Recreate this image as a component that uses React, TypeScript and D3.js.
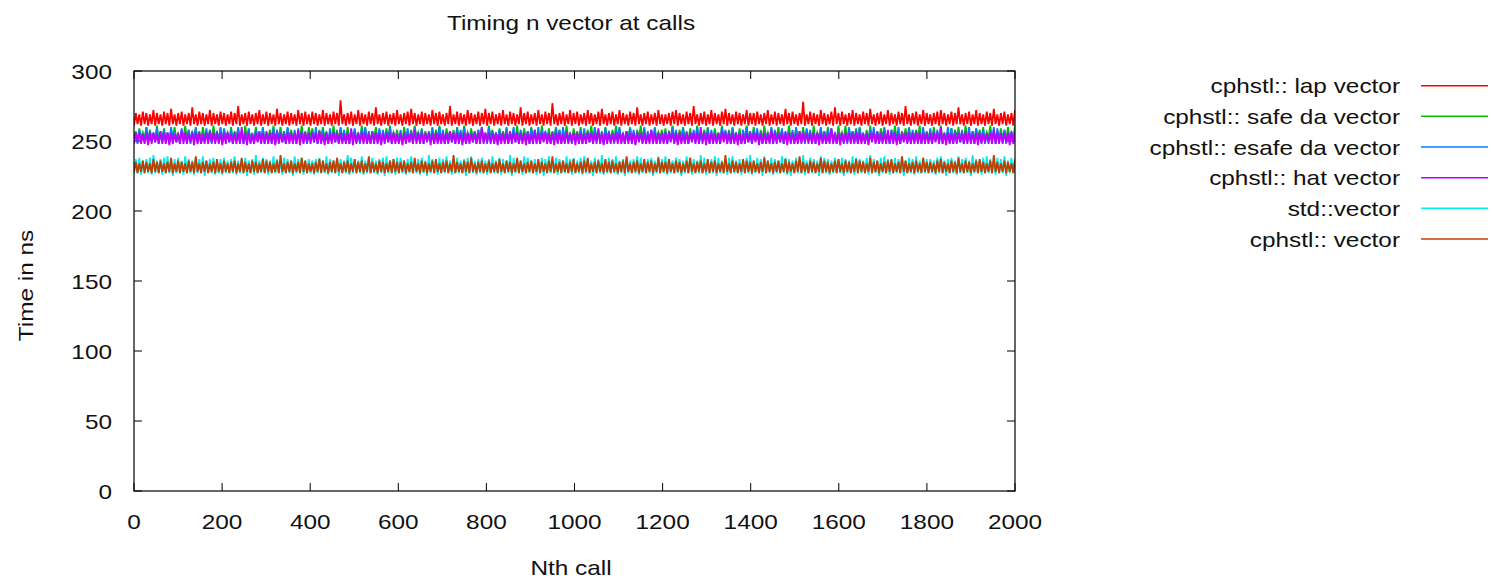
import React from "react";
import * as d3 from "d3";

const chartTitle = "Timing n vector at calls";
const xAxisTitle = "Nth call";
const yAxisTitle = "Time in ns";
const xTickValues = [0, 200, 400, 600, 800, 1000, 1200, 1400, 1600, 1800, 2000];
const yTickValues = [0, 50, 100, 150, 200, 250, 300];

const seriesNames = [
  "cphstl:: lap vector",
  "cphstl:: safe da vector",
  "cphstl:: esafe da vector",
  "cphstl:: hat vector",
  "std::vector",
  "cphstl:: vector",
];

// each character is an offset (base-36 digit) in ns above the series base value
const seriesBase = [258, 244, 244, 244, 224, 224];

const lapVector = [
  "3c4b3d4c3b4e3c4b3d4c3f4b3c4d3b4c3g4b3d4c3b4e3c4b3d",
  "4c3b4d3c4h3b4c3d4b3c4e3b4d3c4b3f4c3b4d3c4b3e4c3d4b",
  "3d4c3b4e3c4b3d4c3l4b3c4d3b4e3c4b3d4c3g4b3c4d3b4c3e",
  "4b3c4d3f4c3b4d3c4b3e4c3d4b3c4h3b4d3c4b3e4c3b4d3c4f",
  "3c4d3b4c3e4b3d4c3b4g3c4d3b4c3e4b3d4c3j4b3c4d3b4e3c",
  "4d3b4c3e4c3b4d3f4b3c4d3b4e3c4b3d4c3g4b3c4d3b4c3e4b",
  "3b4c3d4e3c4b3d4c3h4b3c4d3b4e3c4b3d4f3c4b3d4c3b4e3c",
  "4c3d4b3c4e3b4d3c4b3f4c3d4b3c4k3b4d3c4b3e4c3b4d3g4c",
  "3d4b3c4e3c4b3d4c3f4b3c4d3b4e3c4b3d4c3h4b3c4d3b4e3c",
  "4b3c4d3e4c3b4d3c4g4b3c4d3b4e3c4b3d4c3f4b3c4d3b4c3e",
].join("");

const safeDaVector = [
  "7d6f8c7g6e8b7h6d8f7c6e8g7b6d8h7e6c8f7d6g8b7e6h8c7f",
  "6e8c7g6d8f7b6h8e7c6g8d7f6b8e7h6c8g7d6f8e7b6c8h7d6g",
  "8f7c6e8g7d6b8h7e6f8c7g6d8e7b6h8f7c6d8g7e6b8f7h6c8e",
  "7b6g8d7e6h8c7f6d8b7g6e8h7c6f8d7e6g8b7h6c8f7d6e8g7c",
  "6h8e7c6f8d7g6b8e7h6c8f7d6g8e7b6h8c7f6d8g7e6c8h7b6f",
  "8d7g6c8e7h6f8b7d6g8c7e6h8f7b6d8g7c6e8h7f6b8d7g6c8e",
  "7f6c8h7d6e8g7b6f8c7h6d8e7g6b8f7c6h8d7e6g8b7f6c8h7d",
  "6g8b7e6h8c7f6d8g7e6b8h7c6f8d7g6e8b7h6c8f7d6g8e7b6h",
  "8c7h6e8d7f6g8b7e6h8c7d6f8g7b6e8h7c6d8f7g6b8e7h6c8d",
  "7e6g8c7h6b8d7f6e8g7c6h8b7d6f8e7g6c8h7b6d8f7e6g8c7h",
].join("");

const esafeDaVector = [
  "5c4e6b5g4d6c5f4b6e5c4g6d5b4f6c5e4d6g5b4c6f5e4b6d5g",
  "4f6c5e4b6g5d4c6f5b4e6d5g4c6b5f4e6c5d4g6b5e4f6d5c4b",
  "6d5g4c6e5b4f6d5c4g6e5b4d6f5c4e6g5d4b6c5f4e6d5g4c6b",
  "5e4b6f5d4g6c5e4b6d5f4c6g5e4b6d5c4f6e5g4b6c5d4e6f5b",
  "4g6d5c4e6b5f4d6g5c4e6b5d4f6c5g4e6d5b4c6f5e4g6d5c4b",
  "6b5e4f6c5d4g6e5b4f6d5c4e6g5b4d6f5e4c6b5g4d6e5f4c6b",
  "5d4c6g5e4b6f5d4c6e5g4b6d5f4e6c5b4g6e5d4f6c5b4e6g5d",
  "4e6f5b4d6c5g4e6b5f4d6c5e4g6b5d4f6e5c4b6g5d4e6f5c4b",
  "6c5b4g6d5e4f6c5b4e6g5d4c6f5b4e6d5g4c6b5f4e6d5c4g6b",
  "5f4d6e5c4b6g5f4d6c5e4b6g5d4f6c5e4b6d5g4f6c5e4b6d5c",
].join("");

const hatVector = [
  "4c5c4b4c3c4c5b4d4c4c3c4b5c4e4c4c5c3c4c4b4c4d5c4c4c",
  "3c4c5b4c4c4g4c3c4b4c5c4c4d4c4c3c4c5b4c4c4c4e3c4c5c",
  "4c5c4d4b3c4c4c5c4c4b4c4f3c4c5c4c4b4d4c4c3c4c5c4c4b",
  "4c3c4b5c4e4c4c4c5c3c4c4b4c4c4d5c4c4c3c4c4b5c4c4g4c",
  "5c4c4c3b4c4c4d4c5c4c4c3c4b4e4c4c5c4c4c3c4c4b4d4c5c",
  "3c4c4b4c5c4c4f4c3c4c4b5c4c4c4d4c4c3c5c4c4b4e4c4c4c",
  "4c4d5c4c3c4b4c4c5c4c4g4c3c4c4b4c4d5c4c4c4c3c4b4c5c",
  "4c5c3c4c4b4e4c4c5c4c3c4c4b4d4c5c4c4c4c3c4c4b4f4c4c",
  "3c4c5c4c4d4c4b4c3c5c4c4c4c4e4c4c3b4c5c4c4c4d4c4c4c",
  "4c4c5c4g4c3c4b4c4c5c4d4c4c4c3c4b5c4c4e4c4c4c5c3c4c",
].join("");

const stdVector = [
  "3d3e2c3d3e2g3c3d2e3f3c1d3e3c2f3d3c2e3d3f1c3d3e2c3d",
  "2e3c3d3f2c3d3e1c3d2g3c3e3d2c3f3d3c2e3d3c1f3d3e2c3d",
  "3c2d3e3c3f2d3c3e1d3c3g2e3d3c3f2c3d3e3c2d3e1f3c3d2e",
  "3e3c2d3f3c3d2e3c1g3d3c2e3d3f3c2d3e3c3d1e3f3c2d3e3c",
  "2d3f3c3e2d3c3g1e3d3c2f3e3c3d2c3e1d3f3c3e2d3c3f3d2e",
  "3c3e2f3d3c1e3d3g2c3e3d3f2c3d1e3c3d3f2e3c3d3e1c3f3d",
  "3f2d3c3e3d1c3f3e2d3c3g3e2c3d3f1e3c3d2e3f3c3d2c3e3g",
  "2c3e3d1f3c3e2d3c3f3e2d1c3e3d3g2c3e3d3c1f3e3d2c3e3d",
  "3e1d3c3f2e3d3c3e2g3d3c1e3f3d2c3e3d3f1c3e3d2f3c3e3d",
  "3d3c2e3f3c1d3e3c2f3d3e3c1g3d3c2e3f3d3c2e3d3f1c3e3d",
].join("");

const cphstlVector = [
  "4b3a4c3b4a3d4b3c4a3b4e3a4c3b4a3c4b3f4a3b4c3a4b3d4a",
  "3c4a3b4c3a4e3b4a3c4b3a4d3c4b3a4c3g4a3b4c3a4b3e4c3a",
  "4a3b4d3c4a3b4c3e4a3b4c3a4d3b4c3a4f3b4a3c4b3a4c3d4b",
  "3b4c3a4b3e4a3c4b3a4c3d4a3b4c3a4g3b4a3c4b3e4a3b4c3a",
  "4c3a4b3d4a3c4b3a4e3c4a3b4c3a4d3b4a3c4f3a4b3c4a3b4d",
  "3a4b3c4e3a4b3c4a3d4b3c4a3b4c3f4a3b4c3a4d3b4c3a4e3b",
  "4b3d4a3c4b3a4c3e4a3b4c3a4d3b4c3a4b3g4a3c4b3a4d3c4b",
  "3c4a3b4e3c4a3b4c3a4d3b4a3c4f3b4a3c4b3a4e3c4b3a4c3d",
  "4a3c4b3a4d3c4b3a4e3b4c3a4b3c4d3a4b3f4c3a4b3c4a3e4b",
  "3b4a3c4d3b4a3c4b3e4a3c4b3a4c3d4b3a4c3g4b3a4c3b4a3d",
].join("");

const seriesCodes = [lapVector, safeDaVector, esafeDaVector, hatVector, stdVector, cphstlVector];
const seriesColors = ["#ff0000", "#00c000", "#0080ff", "#c000ff", "#00eeee", "#c04000"];

const FONT = "'Liberation Sans', Arial, Helvetica, sans-serif";
const FS = 21;
const SX = 1.16;

const Label = ({ x, y, anchor = "middle", rotate = 0, children }: any) => (
  <text
    transform={`translate(${x},${y}) rotate(${rotate}) scale(${SX},1)`}
    textAnchor={anchor}
    fontFamily={FONT}
    fontSize={FS}
    fill="#111"
  >
    {children}
  </text>
);

export default function App() {
  const W = 1492;
  const H = 580;
  const left = 134, right = 1015, top = 71, bottom = 491;
  const x = d3.scaleLinear().domain([0, 2000]).range([left, right]);
  const y = d3.scaleLinear().domain([0, 300]).range([bottom, top]);

  const series = seriesCodes.map((code, s) => {
    const vals = code.split("").map((ch) => seriesBase[s] + parseInt(ch, 36));
    const n = vals.length;
    return vals.map((v, i) => [(i * 2000) / (n - 1), v] as [number, number]);
  });

  const line = d3
    .line<[number, number]>()
    .x((d) => x(d[0]))
    .y((d) => y(d[1]));

  const tickLen = 8;
  const legendY0 = 85.7;
  const legendStep = 30.66;

  return (
    <svg
      width={W}
      height={H}
      style={{ position: "absolute", left: 0, top: 0, background: "#fff" }}
    >
      <rect x={0} y={0} width={W} height={H} fill="#fff" />
      <defs>
        <clipPath id="plotClip">
          <rect x={left} y={top} width={right - left} height={bottom - top} />
        </clipPath>
      </defs>

      {/* ticks */}
      {yTickValues.map((t) => (
        <g key={"y" + t}>
          <line x1={left} x2={left + tickLen} y1={y(t)} y2={y(t)} stroke="#000" strokeWidth={1} />
          <line x1={right} x2={right - tickLen} y1={y(t)} y2={y(t)} stroke="#000" strokeWidth={1} />
          <Label x={112} y={y(t) + 7.5} anchor="end">
            {t}
          </Label>
        </g>
      ))}
      {xTickValues.map((t) => (
        <g key={"x" + t}>
          <line x1={x(t)} x2={x(t)} y1={bottom} y2={bottom - tickLen} stroke="#000" strokeWidth={1} />
          <line x1={x(t)} x2={x(t)} y1={top} y2={top + tickLen} stroke="#000" strokeWidth={1} />
          <Label x={x(t)} y={529}>
            {t}
          </Label>
        </g>
      ))}

      {/* data */}
      <g clipPath="url(#plotClip)">
        {series.map((pts, s) => (
          <path key={s} d={line(pts) || ""} fill="none" stroke={seriesColors[s]} strokeWidth={1.8} />
        ))}
      </g>

      {/* frame */}
      <rect
        x={left}
        y={top}
        width={right - left}
        height={bottom - top}
        fill="none"
        stroke="#000"
        strokeWidth={1.2}
      />

      {/* titles */}
      <Label x={571} y={30}>
        {chartTitle}
      </Label>
      <Label x={571} y={575}>
        {xAxisTitle}
      </Label>
      <Label x={33} y={285.5} rotate={-90}>
        {yAxisTitle}
      </Label>

      {/* legend */}
      {seriesNames.map((name, s) => {
        const ly = legendY0 + s * legendStep;
        return (
          <g key={name}>
            <Label x={1400} y={ly + 7.6} anchor="end">
              {name}
            </Label>
            <line x1={1421} x2={1488} y1={ly} y2={ly} stroke={seriesColors[s]} strokeWidth={1.5} />
          </g>
        );
      })}
    </svg>
  );
}
